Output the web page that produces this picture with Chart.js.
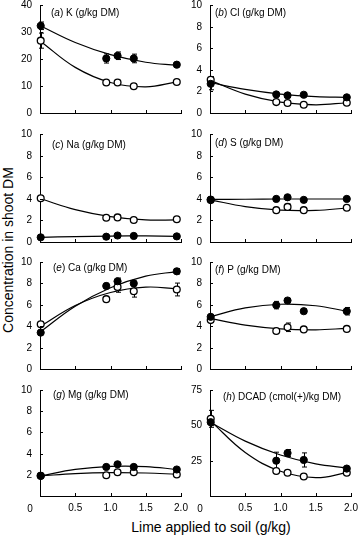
<!DOCTYPE html>
<html>
<head>
<meta charset="utf-8">
<script src="https://cdn.jsdelivr.net/npm/chart.js@4.4.1/dist/chart.umd.min.js"></script>
<style>
  body { margin: 0; background: #fff; }
  #wrap { position: relative; width: 359px; height: 537px; overflow: hidden; font-family: "Liberation Sans", Arial, sans-serif; color: #000; }
  canvas { position: absolute; }
  .ytitle { position: absolute; left: 8px; top: 250px; transform: translate(-50%, -50%) rotate(-90deg); font-size: 14px; white-space: nowrap; }
  .xtitle { position: absolute; left: 211px; top: 527px; transform: translate(-50%, -50%); font-size: 14px; white-space: nowrap; }
  .ytick { position: absolute; font-size: 10px; line-height: 12px; height: 12px; text-align: right; white-space: nowrap; z-index: 2; }
</style>
</head>
<body>
<div id="wrap">
  <div class="ytitle">Concentration in shoot DM</div>
  <div class="xtitle">Lime applied to soil (g/kg)</div>
</div>
<script>
// lime rates of the treatments, and where the fitted curves were read
const limeX = [0.01, 0.94, 1.10, 1.33, 1.94];
const curveX = [0.01, 0.5, 1.0, 1.5, 1.94];
const xTicks = [0, 0.5, 1.0, 1.5, 2.0];
const kTicks = [0, 10, 20, 30, 40];
const gTicks = [0, 2, 4, 6, 8, 10];
const dcadTicks = [0, 25, 50, 75];

// (a) K
const kFilled = [32.3, 20.2, 21.2, 20.2, 17.9];
const kFilledErr = [1.4, 1.7, 1.4, 1.6, 0.4];
const kOpen = [26.8, 11.3, 11.3, 9.9, 11.5];
const kOpenErr = [2.8, 0.5, 0.8, 0.8, 0.4];
const kFilledFit = [32.2, 26.1, 21.6, 18.8, 17.7];
const kOpenFit = [26.5, 16.9, 11.3, 9.7, 11.5];

// (b) Cl
const clFilled = [2.7, 1.72, 1.63, 1.69, 1.45];
const clFilledErr = [0.55, 0.12, 0.1, 0.15, 0.08];
const clOpen = [3.07, 1.01, 0.92, 0.77, 0.95];
const clOpenErr = [0.3, 0.08, 0.08, 0.08, 0.08];
const clFilledFit = [2.8, 2.18, 1.75, 1.51, 1.45];
const clOpenFit = [3.0, 1.75, 1.0, 0.76, 0.95];

// (c) Na
const naFilled = [0.43, 0.49, 0.6, 0.56, 0.52];
const naFilledErr = [0.05, 0.05, 0.05, 0.05, 0.05];
const naOpen = [4.05, 2.25, 2.28, 2.04, 2.1];
const naOpenErr = [0.15, 0.1, 0.2, 0.1, 0.1];
const naFilledFit = [0.43, 0.5, 0.55, 0.56, 0.53];
const naOpenFit = [4.0, 3.0, 2.35, 2.04, 2.05];

// (d) S
const sFilled = [3.93, 3.99, 4.14, 3.9, 3.99];
const sFilledErr = [0.08, 0.08, 0.08, 0.08, 0.08];
const sOpen = [3.88, 2.95, 3.25, 2.95, 3.17];
const sOpenErr = [0.1, 0.1, 0.25, 0.1, 0.1];
const sFilledFit = [3.95, 3.96, 3.98, 3.98, 3.98];
const sOpenFit = [3.9, 3.28, 2.95, 2.93, 3.15];

// (e) Ca
const caFilled = [3.4, 7.76, 8.2, 8.0, 9.13];
const caFilledErr = [0.15, 0.25, 0.3, 0.2, 0.25];
const caOpen = [4.18, 6.53, 7.67, 7.27, 7.43];
const caOpenErr = [0.2, 0.1, 0.5, 0.55, 0.6];
const caFilledFit = [3.5, 5.87, 7.6, 8.68, 9.1];
const caOpenFit = [4.0, 5.93, 7.15, 7.65, 7.5];

// (f) P
const pFilled = [4.88, 5.97, 6.4, 5.4, 5.4];
const pFilledErr = [0.15, 0.35, 0.1, 0.2, 0.35];
const pOpen = [4.57, 3.55, 3.9, 3.7, 3.75];
const pOpenErr = [0.2, 0.1, 0.4, 0.1, 0.1];
const pFilledFit = [4.9, 5.71, 6.05, 5.91, 5.4];
const pOpenFit = [4.7, 4.1, 3.75, 3.66, 3.8];

// (g) Mg
const mgFilled = [1.9, 2.74, 2.99, 2.74, 2.5];
const mgFilledErr = [0.1, 0.1, 0.1, 0.1, 0.1];
const mgOpen = [1.9, 1.96, 2.24, 2.24, 2.03];
const mgOpenErr = [0.08, 0.08, 0.08, 0.08, 0.08];
const mgFilledFit = [1.9, 2.51, 2.8, 2.78, 2.5];
const mgOpenFit = [1.9, 2.11, 2.2, 2.17, 2.05];

// (h) DCAD
const dcadFilled = [52.2, 25, 30.4, 25.5, 19.4];
const dcadFilledErr = [2.4, 6, 2.5, 5, 1];
const dcadOpen = [54.6, 17.7, 16.5, 13.8, 16.5];
const dcadOpenErr = [6, 1, 1, 1.5, 1];
const dcadFilledFit = [52, 38.8, 29, 22.7, 20];
const dcadOpenFit = [53, 30.8, 17.5, 13.0, 16.5];

const panels = [
  { letter: 'a', name: 'K (g/kg DM)', yTicks: kTicks, filled: kFilled, filledErr: kFilledErr, open: kOpen, openErr: kOpenErr, filledFit: kFilledFit, openFit: kOpenFit },
  { letter: 'b', name: 'Cl (g/kg DM)', yTicks: gTicks, filled: clFilled, filledErr: clFilledErr, open: clOpen, openErr: clOpenErr, filledFit: clFilledFit, openFit: clOpenFit },
  { letter: 'c', name: 'Na (g/kg DM)', yTicks: gTicks, filled: naFilled, filledErr: naFilledErr, open: naOpen, openErr: naOpenErr, filledFit: naFilledFit, openFit: naOpenFit },
  { letter: 'd', name: 'S (g/kg DM)', yTicks: gTicks, filled: sFilled, filledErr: sFilledErr, open: sOpen, openErr: sOpenErr, filledFit: sFilledFit, openFit: sOpenFit },
  { letter: 'e', name: 'Ca (g/kg DM)', yTicks: gTicks, filled: caFilled, filledErr: caFilledErr, open: caOpen, openErr: caOpenErr, filledFit: caFilledFit, openFit: caOpenFit },
  { letter: 'f', name: 'P (g/kg DM)', yTicks: gTicks, filled: pFilled, filledErr: pFilledErr, open: pOpen, openErr: pOpenErr, filledFit: pFilledFit, openFit: pOpenFit },
  { letter: 'g', name: 'Mg (g/kg DM)', yTicks: gTicks, filled: mgFilled, filledErr: mgFilledErr, open: mgOpen, openErr: mgOpenErr, filledFit: mgFilledFit, openFit: mgOpenFit },
  { letter: 'h', name: 'DCAD (cmol(+)/kg DM)', yTicks: dcadTicks, filled: dcadFilled, filledErr: dcadFilledErr, open: dcadOpen, openErr: dcadOpenErr, filledFit: dcadFilledFit, openFit: dcadOpenFit }
];

// layout of the grid (pixels)
const colLeft = [0, 170];
const colWidth = [195, 189];
const areaLeft = [40, 210];
const areaRight = [181, 351];
const rowTop = [5, 134, 262, 390];
const rowBottom = [113, 242, 369, 496];
const labelDx = [11, 5, 12, 5, 13, 5, 13, 13];
const labelDy = [8, 8, 11, 9, 6, 8, 5, 7];

const FONT = '"Liberation Sans", Arial, sans-serif';
Chart.defaults.font.family = FONT;
Chart.defaults.font.size = 10;
Chart.defaults.color = '#000';

const panelDecor = {
    id: 'panelDecor',
    beforeDatasetsDraw(chart) {
        // error bars sit behind the points
        const ctx = chart.ctx;
        const x = chart.scales.x, y = chart.scales.y;
        ctx.save();
        ctx.strokeStyle = '#000';
        ctx.lineWidth = 1;
        chart.data.datasets.forEach(ds => {
            if (!ds.errors) return;
            ds.data.forEach((p, i) => {
                const e = ds.errors[i];
                if (!e) return;
                const px = Math.round(x.getPixelForValue(p.x)) + 0.5;
                const y1 = y.getPixelForValue(p.y - e);
                const y2 = y.getPixelForValue(p.y + e);
                ctx.beginPath();
                ctx.moveTo(px, y1); ctx.lineTo(px, y2);
                ctx.moveTo(px - 2.5, y1); ctx.lineTo(px + 2.5, y1);
                ctx.moveTo(px - 2.5, y2); ctx.lineTo(px + 2.5, y2);
                ctx.stroke();
            });
        });
        ctx.restore();
    },
    afterDraw(chart) {
        const ctx = chart.ctx;
        const a = chart.chartArea;
        const x = chart.scales.x, y = chart.scales.y;
        const o = chart.options.plugins.panelDecor;
        ctx.save();
        // tick marks point inward
        ctx.strokeStyle = '#000';
        ctx.lineWidth = 1;
        ctx.beginPath();
        xTicks.forEach(v => {
            if (v === 0) return;
            const px = Math.round(x.getPixelForValue(v)) + 0.5;
            ctx.moveTo(px, a.bottom); ctx.lineTo(px, a.bottom - 3);
        });
        y.ticks.forEach(t => {
            if (t.value === 0) return;
            const py = Math.round(y.getPixelForValue(t.value)) + 0.5;
            ctx.moveTo(a.left, py); ctx.lineTo(a.left + 3, py);
        });
        ctx.stroke();

        // panel label, letter in italics
        ctx.fillStyle = '#000';
        ctx.textBaseline = 'middle';
        ctx.textAlign = 'left';
        ctx.font = '10px ' + FONT;
        let tx = a.left + o.dx;
        const ty = a.top + o.dy;
        ctx.fillText('(', tx, ty);
        tx += ctx.measureText('(').width;
        ctx.font = 'italic 10px ' + FONT;
        ctx.fillText(o.letter, tx, ty);
        tx += ctx.measureText(o.letter).width;
        ctx.font = '10px ' + FONT;
        ctx.fillText(') ' + o.name, tx, ty);

        // shared origin label under the corner
        if (o.bottom) {
            ctx.textAlign = 'center';
            ctx.fillText('0', a.left - 10, a.bottom + 13);
        }
        ctx.restore();
    }
};

const wrap = document.getElementById('wrap');

panels.forEach((p, i) => {
    const col = i % 2, row = Math.floor(i / 2);
    const bottom = row === 3;
    const top = rowTop[row] - 8;
    const h = rowBottom[row] - top + (bottom ? 22 : 4);
    const w = colWidth[col];

    const canvas = document.createElement('canvas');
    canvas.width = w;
    canvas.height = h;
    canvas.style.left = colLeft[col] + 'px';
    canvas.style.top = top + 'px';
    canvas.style.width = w + 'px';
    canvas.style.height = h + 'px';
    wrap.appendChild(canvas);

    const pts = vals => limeX.map((x, k) => ({ x: x, y: vals[k] }));
    const fit = vals => curveX.map((x, k) => ({ x: x, y: vals[k] }));
    const yMax = p.yTicks[p.yTicks.length - 1];

    const chart = new Chart(canvas, {
        type: 'scatter',
        data: {
            datasets: [
                {
                    data: pts(p.filled),
                    errors: p.filledErr,
                    backgroundColor: '#000',
                    borderColor: '#000',
                    borderWidth: 1,
                    pointRadius: 3.6,
                    clip: false
                },
                {
                    data: pts(p.open),
                    errors: p.openErr,
                    backgroundColor: '#fff',
                    borderColor: '#000',
                    borderWidth: 1.3,
                    pointRadius: 3.4,
                    clip: false
                },
                {
                    data: fit(p.filledFit),
                    showLine: true,
                    borderColor: '#000',
                    borderWidth: 1.2,
                    pointRadius: 0,
                    tension: 0.4,
                    clip: false
                },
                {
                    data: fit(p.openFit),
                    showLine: true,
                    borderColor: '#000',
                    borderWidth: 1.2,
                    pointRadius: 0,
                    tension: 0.4,
                    clip: false
                }
            ]
        },
        options: {
            responsive: false,
            animation: false,
            devicePixelRatio: 1,
            events: [],
            layout: {
                autoPadding: false,
                padding: { left: 0, right: w - (areaRight[col] - colLeft[col]), top: 8, bottom: bottom ? 0 : 4 }
            },
            plugins: {
                legend: { display: false },
                tooltip: { enabled: false },
                panelDecor: { letter: p.letter, name: p.name, dx: labelDx[i], dy: labelDy[i], bottom: bottom }
            },
            scales: {
                x: {
                    type: 'linear',
                    min: 0,
                    max: 2,
                    afterBuildTicks: s => { s.ticks = xTicks.map(v => ({ value: v })); },
                    afterFit: s => {
                        s.height = bottom ? 22 : 0;
                        s.paddingLeft = 0; s.paddingRight = 0;
                    },
                    grid: { display: false, drawTicks: false },
                    border: { display: true, color: '#000', width: 1 },
                    ticks: {
                        display: bottom,
                        padding: 6,
                        maxRotation: 0,
                        autoSkip: false,
                        callback: v => (v === 0 ? '' : v.toFixed(1))
                    }
                },
                y: {
                    type: 'linear',
                    min: 0,
                    max: yMax,
                    afterBuildTicks: s => { s.ticks = p.yTicks.map(v => ({ value: v })); },
                    afterFit: s => {
                        s.width = areaLeft[col] - colLeft[col];
                        s.paddingTop = 0; s.paddingBottom = 0;
                    },
                    grid: { display: false, drawTicks: false },
                    border: { display: true, color: '#000', width: 1 },
                    ticks: { display: false }
                }
            }
        },
        plugins: [panelDecor]
    });

    // y tick labels as page text, placed from the chart's own y scale
    const ys = chart.scales.y;
    const labelRight = colLeft[col] + chart.chartArea.left - 8;
    p.yTicks.forEach(v => {
        if (bottom && v === 0) return;
        const d = document.createElement('div');
        d.className = 'ytick';
        d.textContent = String(v);
        d.style.right = (359 - labelRight) + 'px';
        d.style.top = (top + ys.getPixelForValue(v) - 6) + 'px';
        wrap.appendChild(d);
    });
});
</script>
</body>
</html>
